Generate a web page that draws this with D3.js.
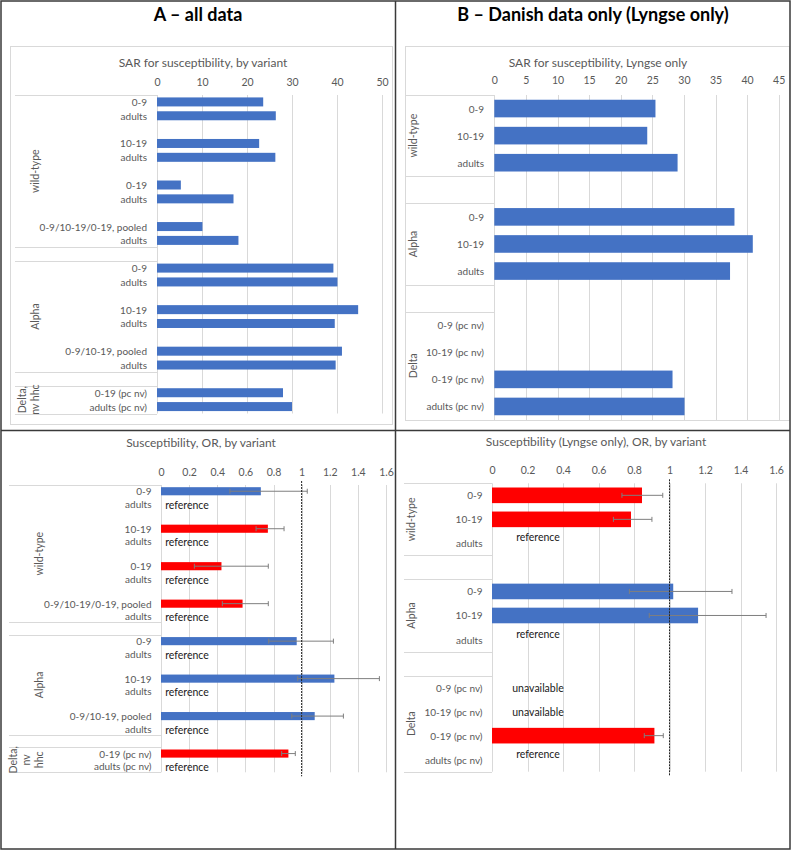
<!DOCTYPE html>
<html>
<head>
<meta charset="utf-8">
<script src="https://cdnjs.cloudflare.com/ajax/libs/d3/7.8.5/d3.min.js"></script>
<style>
    body { margin: 0; background: white; }
    svg { display: block; font-family: Lato, "Open Sans", sans-serif; }
    .axis path, .axis line { display: none; }
    .axis text { fill: #595959; font-size: 10.5px; font-family: Lato, sans-serif; }
    .cat { fill: #595959; font-size: 10px; text-anchor: end; dominant-baseline: central; }
    .grp { fill: #595959; font-size: 10.5px; text-anchor: middle; dominant-baseline: central; }
    .ctitle { fill: #595959; font-size: 12px; text-anchor: middle; dominant-baseline: central; }
    .note { fill: #1a1a1a; font-size: 10.5px; text-anchor: middle; dominant-baseline: central; }
    .ptitle { fill: #000; font-size: 18px; font-weight: bold; text-anchor: middle; dominant-baseline: central; }
</style>
</head>
<body>
<div id="chart"></div>
<script>
// ---- data: panel A (all data) ----
var catsA = ["0-9", "adults", "", "10-19", "adults", "", "0-19", "adults", "", "0-9/10-19/0-19, pooled", "adults",
    "",
    "0-9", "adults", "", "10-19", "adults", "", "0-9/10-19, pooled", "adults",
    "",
    "0-19 (pc nv)", "adults (pc nv)"];
var groupNamesA = ["wild-type", "", "Alpha", "", "Delta,\nnv hhc"];
var groupNamesAOr = ["wild-type", "", "Alpha", "", "Delta,\nnv\nhhc"];
var groupSizesA = [11, 1, 8, 1, 2];
var sarA = [23.6, 26.4, null, 22.7, 26.3, null, 5.3, 17.0, null, 10.1, 18.1,
    null,
    39.2, 40.1, null, 44.7, 39.5, null, 41.1, 39.7,
    null,
    28.0, 30.0];
var orA = [0.71, null, null, 0.76, null, null, 0.43, null, null, 0.58, null,
    null,
    0.965, null, null, 1.233, null, null, 1.093, null,
    null,
    0.906, null];
var orALow = [0.49, null, null, 0.676, null, null, 0.237, null, null, 0.436, null,
    null,
    0.766, null, null, 0.972, null, null, 0.93, null,
    null,
    0.858, null];
var orAHigh = [1.04, null, null, 0.875, null, null, 0.763, null, null, 0.763, null,
    null,
    1.226, null, null, 1.553, null, null, 1.297, null,
    null,
    0.955, null];
var notesA = ["", "reference", "", "", "reference", "", "", "reference", "", "", "reference",
    "",
    "", "reference", "", "", "reference", "", "", "reference",
    "",
    "", "reference"];

// ---- data: panel B (Lyngse only) ----
var catsB = ["0-9", "10-19", "adults", "", "0-9", "10-19", "adults", "",
    "0-9 (pc nv)", "10-19 (pc nv)", "0-19 (pc nv)", "adults (pc nv)"];
var groupNamesB = ["wild-type", "", "Alpha", "", "Delta"];
var groupSizesB = [3, 1, 3, 1, 4];
var sarB = [25.5, 24.2, 29.0, null, 38.0, 40.9, 37.3, null, null, null, 28.2, 30.1];
var orB = [0.845, 0.783, null, null, 1.021, 1.161, null, null, null, null, 0.915, null];
var orBLow = [0.732, 0.684, null, null, 0.774, 0.886, null, null, null, null, 0.858, null];
var orBHigh = [0.962, 0.901, null, null, 1.352, 1.544, null, null, null, null, 0.965, null];
var notesB = ["", "", "reference", "", "", "", "reference", "", "unavailable", "unavailable", "", "reference"];

// ---- tick labels ----
var sarTicksA = [0, 10, 20, 30, 40, 50];
var sarTicksB = [0, 5, 10, 15, 20, 25, 30, 35, 40, 45];
var orTicks = [0, 0.2, 0.4, 0.6, 0.8, 1, 1.2, 1.4, 1.6];

var width = 792, height = 850;
var blue = "#4472C4", red = "#FF0000";

var svg = d3.select("#chart").append("svg")
    .attr("width", width)
    .attr("height", height);

// chart frames for the top charts
svg.append("rect").attr("x", 10.5).attr("y", 46.5).attr("width", 382).attr("height", 378)
    .attr("fill", "none").attr("stroke", "#d9d9d9");
svg.append("rect").attr("x", 405.5).attr("y", 46.5).attr("width", 384).attr("height", 374)
    .attr("fill", "none").attr("stroke", "#d9d9d9");

// outer table borders
svg.append("rect").attr("x", 1).attr("y", 1).attr("width", 789).attr("height", 848)
    .attr("fill", "none").attr("stroke", "#3a3a3a").attr("stroke-width", 1.5);
svg.append("line").attr("x1", 395.5).attr("x2", 395.5).attr("y1", 1).attr("y2", 849)
    .attr("stroke", "#3a3a3a").attr("stroke-width", 1.5);
svg.append("line").attr("x1", 1).attr("x2", 790).attr("y1", 430.5).attr("y2", 430.5)
    .attr("stroke", "#3a3a3a").attr("stroke-width", 1.5);

svg.append("text").attr("class", "ptitle").attr("x", 198).attr("y", 14).text("A \u2013 all data");
svg.append("text").attr("class", "ptitle").attr("x", 593).attr("y", 14).text("B \u2013 Danish data only (Lyngse only)");

function drawPanel(p) {
    var g = svg.append("g");
    var n = p.cats.length;
    var x = d3.scaleLinear().domain([0, p.ticks[p.ticks.length - 1]]).range([p.x0, p.x1]);
    var y = d3.scaleBand().domain(d3.range(n)).range([p.top, p.bottom])
        .paddingInner(0.35).paddingOuter(0.175);
    var step = y.step();

    g.append("text").attr("class", "ctitle").attr("x", p.titleX).attr("y", p.titleY).text(p.title);

    // gridlines
    g.selectAll("line.grid")
        .data(p.ticks)
        .enter().append("line")
        .attr("class", "grid")
        .attr("x1", function (d) { return Math.round(x(d)) + 0.5; })
        .attr("x2", function (d) { return Math.round(x(d)) + 0.5; })
        .attr("y1", p.top)
        .attr("y2", p.bottom)
        .attr("stroke", "#d9d9d9");

    var xAxis = d3.axisTop(x)
        .tickValues(p.ticks)
        .tickSize(0)
        .tickPadding(0)
        .tickFormat(d3.format("~g"));
    g.append("g").attr("class", "axis")
        .attr("transform", "translate(0," + (p.tickY + 4) + ")")
        .call(xAxis);

    // group separators and group labels
    var start = 0;
    var bounds = [0];
    p.groupSizes.forEach(function (s) { start += s; bounds.push(start); });
    g.selectAll("line.sep")
        .data(bounds)
        .enter().append("line")
        .attr("class", "sep")
        .attr("x1", p.labelLeft)
        .attr("x2", p.x0)
        .attr("y1", function (k) { return Math.round(p.top + k * step) + 0.5; })
        .attr("y2", function (k) { return Math.round(p.top + k * step) + 0.5; })
        .attr("stroke", "#d9d9d9");

    p.groupNames.forEach(function (name, i) {
        if (!name) return;
        var cy = p.top + (bounds[i] + p.groupSizes[i] / 2) * step;
        var lines = name.split("\n");
        var t = g.append("text").attr("class", "grp")
            .attr("transform", "translate(" + p.groupX + "," + cy + ") rotate(-90)");
        lines.forEach(function (l, j) {
            t.append("tspan").attr("x", 0).attr("y", -(lines.length - 1 - j) * 13).text(l);
        });
    });

    // category labels
    g.selectAll("text.cat")
        .data(p.cats)
        .enter().append("text")
        .attr("class", "cat")
        .attr("x", p.catX)
        .attr("y", function (d, i) { return y(i) + y.bandwidth() / 2; })
        .text(function (d) { return d; });

    // bars
    var rows = p.values.map(function (v, i) {
        return { i: i, v: v, lo: p.low ? p.low[i] : null, hi: p.high ? p.high[i] : null };
    }).filter(function (d) { return d.v != null; });

    g.selectAll("rect.bar")
        .data(rows)
        .enter().append("rect")
        .attr("class", "bar")
        .attr("x", x(0))
        .attr("y", function (d) { return y(d.i); })
        .attr("width", function (d) { return x(d.v) - x(0); })
        .attr("height", y.bandwidth())
        .attr("fill", function (d) { return (d.hi != null && d.hi < 1) ? red : blue; });

    if (p.low) {
        var eb = g.selectAll("g.err")
            .data(rows)
            .enter().append("g")
            .attr("class", "err")
            .attr("stroke", "#7f7f7f")
            .attr("stroke-width", 1);
        eb.append("line")
            .attr("x1", function (d) { return x(d.lo); })
            .attr("x2", function (d) { return x(d.hi); })
            .attr("y1", function (d) { return y(d.i) + y.bandwidth() / 2; })
            .attr("y2", function (d) { return y(d.i) + y.bandwidth() / 2; });
        ["lo", "hi"].forEach(function (k) {
            eb.append("line")
                .attr("x1", function (d) { return x(d[k]); })
                .attr("x2", function (d) { return x(d[k]); })
                .attr("y1", function (d) { return y(d.i) + y.bandwidth() / 2 - 2.5; })
                .attr("y2", function (d) { return y(d.i) + y.bandwidth() / 2 + 2.5; });
        });

        // reference line at OR = 1
        g.append("line")
            .attr("x1", x(1)).attr("x2", x(1))
            .attr("y1", p.top - 4).attr("y2", p.bottom + 4)
            .attr("stroke", "#222")
            .attr("stroke-width", 1)
            .attr("stroke-dasharray", "2,1");
    }

    if (p.notes) {
        g.selectAll("text.note")
            .data(p.notes.map(function (t, i) { return { t: t, i: i }; }).filter(function (d) { return d.t; }))
            .enter().append("text")
            .attr("class", "note")
            .attr("x", x(0) + p.noteDx)
            .attr("y", function (d) { return y(d.i) + y.bandwidth() / 2 + (d.t === "reference" ? p.refDy : 0); })
            .text(function (d) { return d.t; });
    }
}

drawPanel({
    title: "SAR for susceptibility, by variant", titleX: 203, titleY: 62,
    cats: catsA, groupNames: groupNamesA, groupSizes: groupSizesA,
    values: sarA, ticks: sarTicksA,
    x0: 157, x1: 382, top: 95, bottom: 413.5, tickY: 82,
    labelLeft: 15, catX: 147, groupX: 35
});

drawPanel({
    title: "SAR for susceptibility, Lyngse only", titleX: 598, titleY: 62,
    cats: catsB, groupNames: groupNamesB, groupSizes: groupSizesB,
    values: sarB, ticks: sarTicksB,
    x0: 494.3, x1: 778.7, top: 95, bottom: 420, tickY: 80,
    labelLeft: 405, catX: 484, groupX: 413
});

drawPanel({
    title: "Susceptibility, OR, by variant", titleX: 201, titleY: 442,
    cats: catsA, groupNames: groupNamesAOr, groupSizes: groupSizesA,
    values: orA, low: orALow, high: orAHigh, notes: notesA, ticks: orTicks,
    x0: 161, x1: 386, top: 485, bottom: 772.3, tickY: 471.5,
    labelLeft: 9, catX: 151.5, groupX: 38.5, noteDx: 26, refDy: 1
});

drawPanel({
    title: "Susceptibility (Lyngse only), OR, by variant", titleX: 596, titleY: 441,
    cats: catsB, groupNames: groupNamesB, groupSizes: groupSizesB,
    values: orB, low: orBLow, high: orBHigh, notes: notesB, ticks: orTicks,
    x0: 492, x1: 776, top: 483.3, bottom: 771.7, tickY: 470,
    labelLeft: 404, catX: 482.5, groupX: 411, noteDx: 46, refDy: -6
});
</script>
</body>
</html>
